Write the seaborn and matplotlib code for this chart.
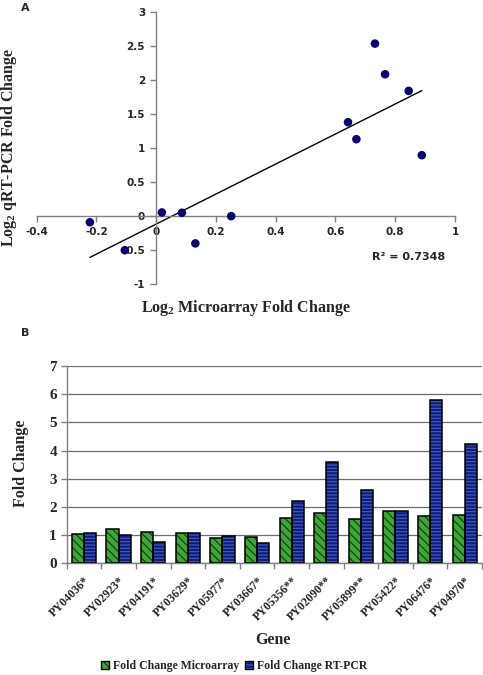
import numpy as np
import pandas as pd
import matplotlib
matplotlib.use("Agg")
import matplotlib.pyplot as plt
from matplotlib.patches import Patch, Rectangle
import matplotlib.transforms as mtransforms
import seaborn as sns

# ---------------- data ----------------
# Panel A: log2 fold changes
microarray_log2 = [-0.222, -0.105, 0.019, 0.086, 0.131, 0.251, 0.642, 0.670, 0.732, 0.766, 0.845, 0.889]
qrtpcr_log2 = [-0.09, -0.50, 0.054, 0.05, -0.40, 0.0, 1.378, 1.129, 2.532, 2.082, 1.838, 0.894]
r2_text = "R\u00b2 = 0.7348"
a_xticks = [-0.4, -0.2, 0, 0.2, 0.4, 0.6, 0.8, 1]
a_xticklabels = ["-0.4", "-0.2", "0", "0.2", "0.4", "0.6", "0.8", "1"]
a_yticks = [-1, -0.5, 0, 0.5, 1, 1.5, 2, 2.5, 3]
a_yticklabels = ["-1", "-0.5", "0", "0.5", "1", "1.5", "2", "2.5", "3"]

# Panel B: fold change per gene
genes = ["PY04036*", "PY02923*", "PY04191*", "PY03629*", "PY05977*", "PY03667*",
         "PY05356**", "PY02090**", "PY05899**", "PY05422*", "PY06476*", "PY04970*"]
fc_microarray = [1.03, 1.21, 1.11, 1.08, 0.89, 0.93, 1.61, 1.80, 1.57, 1.86, 1.67, 1.70]
fc_rtpcr = [1.06, 1.02, 0.77, 1.06, 0.96, 0.73, 2.20, 3.58, 2.60, 1.86, 5.78, 4.22]
series_names = ["Fold Change Microarray", "Fold Change RT-PCR"]
b_yticks = [0, 1, 2, 3, 4, 5, 6, 7]

# ---------------- style ----------------
sns.set_style("white")
plt.rcParams["font.family"] = ["DejaVu Sans"]
plt.rcParams["mathtext.fontset"] = "custom"
plt.rcParams["mathtext.rm"] = "Liberation Serif:bold"
plt.rcParams["mathtext.it"] = "Liberation Serif:bold"
plt.rcParams["mathtext.bf"] = "Liberation Serif:bold"
plt.rcParams["hatch.linewidth"] = 0.8

SERIF = "Liberation Serif"
GREEN = "#3ea636"
GREEN_H = "#10380f"
BLUE = "#131d72"
BLUE_H = "#3f5fcf"
AXC = "#808080"

fig = plt.figure(figsize=(4.83, 6.75), dpi=100)

# ================= Panel A =================
axA = fig.add_axes([36.7 / 483, 1 - 284.3 / 675, (455 - 36.7) / 483, (284.3 - 11.7) / 675])
sns.scatterplot(x=microarray_log2, y=qrtpcr_log2, ax=axA, color="#06066e",
                s=38, edgecolor="none", zorder=3)
sns.regplot(x=np.array(microarray_log2), y=np.array(qrtpcr_log2), ax=axA, scatter=False,
            ci=None, truncate=True, line_kws=dict(color="black", lw=1.0))
axA.set_xlim(-0.4, 1)
axA.set_ylim(-1, 3)
for s in ["top", "right"]:
    axA.spines[s].set_visible(False)
axA.spines["left"].set_position(("data", 0))
axA.spines["bottom"].set_position(("data", 0))
for s in ["left", "bottom"]:
    axA.spines[s].set_color(AXC)
    axA.spines[s].set_linewidth(1.0)
axA.set_xticks(a_xticks)
axA.set_xticklabels(a_xticklabels)
axA.set_yticks(a_yticks)
axA.set_yticklabels(a_yticklabels)
axA.tick_params(axis="both", direction="out", length=4, width=1, color=AXC,
                labelsize=7.5, pad=4, bottom=True, left=True)
for lab in axA.get_xticklabels() + axA.get_yticklabels():
    lab.set_fontweight("bold")
axA.set_xlabel("")
axA.set_ylabel("")
axA.text(0.976, 0.1, r2_text, transform=axA.transAxes, ha="right", va="center",
         fontsize=8, fontweight="bold")

fig.text(9 / 483, 1 - 147 / 675, "Log$_2$ qRT-PCR Fold Change", rotation=90,
         ha="center", va="center", fontsize=11.5, fontweight="bold", family=SERIF)
fig.text(246 / 483, 1 - 308 / 675, "Log$_2$ Microarray Fold Change",
         ha="center", va="center", fontsize=11.5, fontweight="bold", family=SERIF)
fig.text(25 / 483, 1 - 8 / 675, "A", ha="center", va="center", fontsize=8, fontweight="bold")
fig.text(25 / 483, 1 - 333 / 675, "B", ha="center", va="center", fontsize=8, fontweight="bold")

# ================= Panel B =================
axB = fig.add_axes([66.7 / 483, 1 - 563.3 / 675, (482 - 66.7) / 483, (563.3 - 366) / 675])
df = pd.DataFrame({
    "Gene": genes * 2,
    "Series": [series_names[0]] * len(genes) + [series_names[1]] * len(genes),
    "Fold Change": fc_microarray + fc_rtpcr,
})
sns.barplot(data=df, x="Gene", y="Fold Change", hue="Series", hue_order=series_names,
            palette=[GREEN, BLUE], width=0.7, gap=0, ax=axB, legend=False, zorder=2)

styles = [(GREEN, GREEN_H, "\\\\\\\\"), (BLUE, BLUE_H, "-----")]
bars = list(axB.patches)
n = len(genes)
for i, p in enumerate(bars):
    fc, hc, h = styles[i // n]
    p.set_facecolor(fc)
    p.set_edgecolor(hc)
    p.set_hatch(h)
    p.set_linewidth(0)
    axB.add_patch(Rectangle(p.get_xy(), p.get_width(), p.get_height(), fill=False,
                            edgecolor="black", lw=1.1, zorder=3))

axB.set_ylim(0, 7)
axB.set_xlim(-0.5, n - 0.5)
axB.set_yticks(b_yticks)
axB.yaxis.grid(True, color="#6e6e6e", lw=0.9)
axB.set_axisbelow(True)
for s in ["top", "right"]:
    axB.spines[s].set_visible(False)
for s in ["left", "bottom"]:
    axB.spines[s].set_color(AXC)
    axB.spines[s].set_linewidth(1.0)
axB.set_xticks(range(n))
axB.set_xticklabels(genes, rotation=45, ha="right", rotation_mode="anchor",
                    family=SERIF, fontweight="bold", fontsize=8.5)
offset = mtransforms.ScaledTranslation(-7 / 100, -4 / 100, fig.dpi_scale_trans)
for lab in axB.get_xticklabels():
    lab.set_transform(lab.get_transform() + offset)
axB.set_xticks(np.arange(-0.5, n, 1.0), minor=True)
axB.tick_params(axis="x", which="major", length=0, pad=8)
axB.tick_params(axis="x", which="minor", length=4, width=1, color=AXC, direction="out", bottom=True)
axB.tick_params(axis="y", length=4, width=1, color=AXC, direction="out", left=True, pad=3)
for lab in axB.get_yticklabels():
    lab.set_family(SERIF)
    lab.set_fontweight("bold")
    lab.set_fontsize(11)
axB.set_xlabel("")
axB.set_ylabel("")
fig.text(21 / 483, 1 - 463 / 675, "Fold Change", rotation=90, ha="center", va="center",
         fontsize=11.5, fontweight="bold", family=SERIF)
fig.text(273 / 483, 1 - 640 / 675, "Gene", ha="center", va="center",
         fontsize=11.5, fontweight="bold", family=SERIF)

handles = [(Patch(facecolor=fc, edgecolor=hc, hatch=h, lw=0),
            Patch(fill=False, edgecolor="black", lw=1.0)) for fc, hc, h in styles]
fig.legend(handles, series_names, loc="center", bbox_to_anchor=(234 / 483, 1 - 666 / 675),
           ncol=2, frameon=False, handlelength=0.7, handleheight=0.7, handletextpad=0.3,
           columnspacing=0.5, prop=dict(family=SERIF, weight="bold", size=8.5))

fig.savefig("out.png", dpi=100)
